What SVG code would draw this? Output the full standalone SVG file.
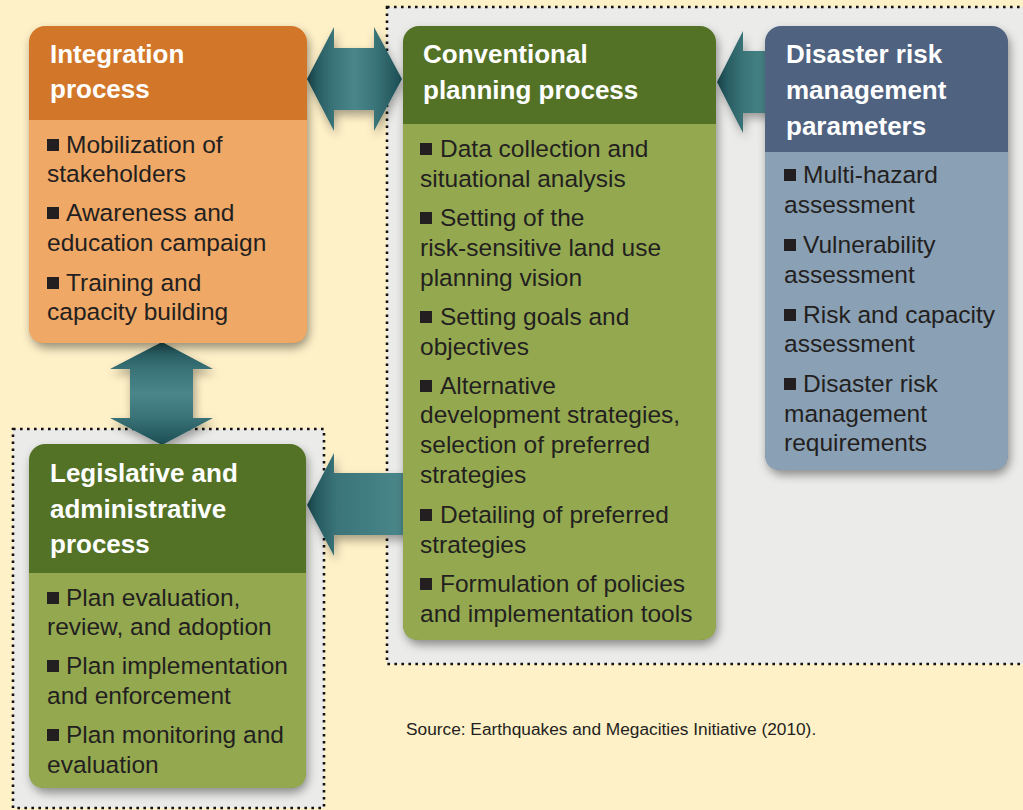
<svg xmlns="http://www.w3.org/2000/svg" width="1023" height="810" viewBox="0 0 1023 810">
<style>
.t{font-family:"Liberation Sans",Arial,sans-serif;font-weight:bold;font-size:26px;fill:#ffffff}
.b{font-family:"Liberation Sans",Arial,sans-serif;font-size:24.5px;fill:#231f20}
.src{font-family:"Liberation Sans",Arial,sans-serif;font-size:17.3px;fill:#231f20}
.dot{fill:#ebebea;stroke:#111;stroke-width:2.6;stroke-dasharray:2.6 4.4}
.sq{fill:#231f20}
.og{fill:#d2772a}.ol{fill:#f0a866}
.gg{fill:#527226}.gl{fill:#94a94f}
.bg{fill:#4f627f}.bl{fill:#8aa0b4}
</style>
<defs>
<filter id="sh" x="-20%" y="-20%" width="140%" height="140%">
<feDropShadow dx="2" dy="5" stdDeviation="5" flood-color="#000" flood-opacity="0.4"/>
</filter>
<filter id="ash" x="-30%" y="-30%" width="160%" height="160%">
<feDropShadow dx="2" dy="5" stdDeviation="5" flood-color="#000" flood-opacity="0.35"/>
</filter>
<linearGradient id="gH" gradientUnits="userSpaceOnUse" x1="307" y1="0" x2="402" y2="0">
<stop offset="0" stop-color="#1c4e54"/><stop offset="0.28" stop-color="#3a7479"/><stop offset="0.5" stop-color="#4a868a"/><stop offset="0.72" stop-color="#3a7479"/><stop offset="1" stop-color="#1c4e54"/>
</linearGradient>
<linearGradient id="gR" gradientUnits="userSpaceOnUse" x1="717" y1="0" x2="770" y2="0">
<stop offset="0" stop-color="#1c4e54"/><stop offset="0.5" stop-color="#3a7479"/><stop offset="1" stop-color="#4a888b"/>
</linearGradient>
<linearGradient id="gV" gradientUnits="userSpaceOnUse" x1="0" y1="342" x2="0" y2="445">
<stop offset="0" stop-color="#1c4e54"/><stop offset="0.28" stop-color="#3a7479"/><stop offset="0.5" stop-color="#4a868a"/><stop offset="0.72" stop-color="#3a7479"/><stop offset="1" stop-color="#1c4e54"/>
</linearGradient>
<linearGradient id="gL" gradientUnits="userSpaceOnUse" x1="307" y1="0" x2="405" y2="0">
<stop offset="0" stop-color="#1c4e54"/><stop offset="0.3" stop-color="#3a7479"/><stop offset="1" stop-color="#4a888b"/>
</linearGradient>
<rect id="bul" width="12" height="12" class="sq"/>
</defs>

<rect x="0" y="0" width="1023" height="810" fill="#fef0c7"/>
<rect class="dot" x="387" y="7" width="660" height="657"/>
<rect class="dot" x="13" y="429" width="311" height="379"/>

<g id="connectors">
<polygon filter="url(#ash)" fill="url(#gH)" points="307,79 334,27 334,48 374,48 374,27 402,79 374,131 374,110 334,110 334,131"/>
<polygon filter="url(#ash)" fill="url(#gR)" points="717,82 743,31 743,51 772,51 772,113 743,113 743,133"/>
<polygon filter="url(#ash)" fill="url(#gV)" points="162,342 213,369 193,369 193,418 213,418 162,445 110,418 130,418 130,369 110,369"/>
<polygon filter="url(#ash)" fill="url(#gL)" points="307,505 334,453 334,473 407,473 407,535 334,535 334,556"/>
</g>

<g id="integration">
<rect x="29" y="26" width="278" height="317" rx="16" class="og" filter="url(#sh)"/>
<path class="ol" d="M29,120 H307 V327 Q307,343 291,343 H45 Q29,343 29,327 Z"/>
<text class="t" x="50" y="63">Integration</text>
<text class="t" x="50" y="98">process</text>
<use href="#bul" x="47" y="139"/><text class="b" x="66" y="153">Mobilization of</text>
<text class="b" x="47" y="182">stakeholders</text>
<use href="#bul" x="47" y="207"/><text class="b" x="66" y="221">Awareness and</text>
<text class="b" x="47" y="251">education campaign</text>
<use href="#bul" x="47" y="277"/><text class="b" x="66" y="291">Training and</text>
<text class="b" x="47" y="320">capacity building</text>
</g>

<g id="conventional">
<rect x="403" y="26" width="313" height="614" rx="16" class="gg" filter="url(#sh)"/>
<path class="gl" d="M403,124 H716 V624 Q716,640 700,640 H419 Q403,640 403,624 Z"/>
<text class="t" x="423" y="63">Conventional</text>
<text class="t" x="423" y="99">planning process</text>
<use href="#bul" x="420" y="143"/><text class="b" x="440" y="157">Data collection and</text>
<text class="b" x="420" y="187">situational analysis</text>
<use href="#bul" x="420" y="212"/><text class="b" x="440" y="226">Setting of the</text>
<text class="b" x="420" y="256">risk-sensitive land use</text>
<text class="b" x="420" y="286">planning vision</text>
<use href="#bul" x="420" y="311"/><text class="b" x="440" y="325">Setting goals and</text>
<text class="b" x="420" y="355">objectives</text>
<use href="#bul" x="420" y="380"/><text class="b" x="440" y="394">Alternative</text>
<text class="b" x="420" y="423">development strategies,</text>
<text class="b" x="420" y="453">selection of preferred</text>
<text class="b" x="420" y="483">strategies</text>
<use href="#bul" x="420" y="509"/><text class="b" x="440" y="523">Detailing of preferred</text>
<text class="b" x="420" y="553">strategies</text>
<use href="#bul" x="420" y="578"/><text class="b" x="440" y="592">Formulation of policies</text>
<text class="b" x="420" y="622">and implementation tools</text>
</g>

<g id="drm">
<rect x="765" y="26" width="243" height="444" rx="16" class="bg" filter="url(#sh)"/>
<path class="bl" d="M765,152 H1008 V454 Q1008,470 992,470 H781 Q765,470 765,454 Z"/>
<text class="t" x="786" y="63">Disaster risk</text>
<text class="t" x="786" y="99">management</text>
<text class="t" x="786" y="135">parameters</text>
<use href="#bul" x="784" y="169"/><text class="b" x="803" y="183">Multi-hazard</text>
<text class="b" x="784" y="213">assessment</text>
<use href="#bul" x="784" y="239"/><text class="b" x="803" y="253">Vulnerability</text>
<text class="b" x="784" y="283">assessment</text>
<use href="#bul" x="784" y="309"/><text class="b" x="803" y="323">Risk and capacity</text>
<text class="b" x="784" y="352">assessment</text>
<use href="#bul" x="784" y="378"/><text class="b" x="803" y="392">Disaster risk</text>
<text class="b" x="784" y="422">management</text>
<text class="b" x="784" y="451">requirements</text>
</g>

<g id="legislative">
<rect x="29" y="444" width="277" height="344" rx="16" class="gg" filter="url(#sh)"/>
<path class="gl" d="M29,573 H306 V772 Q306,788 290,788 H45 Q29,788 29,772 Z"/>
<text class="t" x="50" y="482">Legislative and</text>
<text class="t" x="50" y="518">administrative</text>
<text class="t" x="50" y="553">process</text>
<use href="#bul" x="47" y="592"/><text class="b" x="66" y="606">Plan evaluation,</text>
<text class="b" x="47" y="635">review, and adoption</text>
<use href="#bul" x="47" y="660"/><text class="b" x="66" y="674">Plan implementation</text>
<text class="b" x="47" y="704">and enforcement</text>
<use href="#bul" x="47" y="729"/><text class="b" x="66" y="743">Plan monitoring and</text>
<text class="b" x="47" y="773">evaluation</text>
</g>

<text class="src" x="406" y="735">Source: Earthquakes and Megacities Initiative (2010).</text>
</svg>
